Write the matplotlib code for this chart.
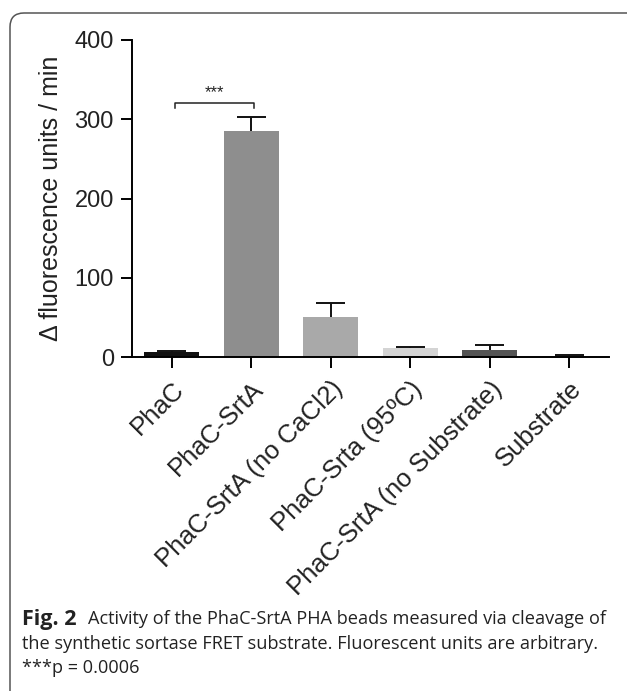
#!/usr/bin/env python3

import matplotlib
matplotlib.use('Agg')
import matplotlib.pyplot as plt
from matplotlib.patches import FancyBboxPatch

groups = ['PhaC', 'PhaC-SrtA', 'PhaC-SrtA (no CaCl2)', 'PhaC-Srta (95ºC)',
          'PhaC-SrtA (no Substrate)', 'Substrate']
means = [7, 285, 51, 12, 9, 2]
errors = [1, 18, 17, 1, 6, 1]
colors = ['#111111', '#8e8e8e', '#a9a9a9', '#d4d4d4', '#545454', '#d9d9d9']
yticks = [0, 100, 200, 300, 400]
sig_pair = (0, 1)
sig_y = 321
sig_label = '***'

caption_bold = 'Fig. 2'
caption_lines = [
    'Activity of the PhaC-SrtA PHA beads measured via cleavage of',
    'the synthetic sortase FRET substrate. Fluorescent units are arbitrary.',
    '***p = 0.0006',
]

W, H = 627, 691
fig = plt.figure(figsize=(W / 100, H / 100), dpi=100)
plt.rcParams['font.family'] = ['Liberation Sans', 'DejaVu Sans']

ax = fig.add_axes([132 / W, 1 - 357.3 / H, (609 - 132) / W, (357.3 - 40) / H])
x = list(range(len(groups)))
ax.bar(x, means, width=0.69, color=colors, zorder=2)

# error bars: upper half only, cap on top
tops = [m + e for m, e in zip(means, errors)]
ax.vlines(x, means, tops, color='#111111', lw=1.4, zorder=3)
ax.hlines(tops, [i - 0.18 for i in x], [i + 0.18 for i in x],
          color='#111111', lw=1.4, zorder=3)

ax.set_xlim(-0.5, 5.5)
ax.set_ylim(0, 400)
ax.set_yticks(yticks)
ax.set_xticks(x)
ax.set_xticklabels(groups, rotation=45, ha='right', va='top',
                   rotation_mode='anchor', fontsize=18.5, color='#222222')
ax.tick_params(axis='y', labelsize=17, length=8, width=1.4, pad=5,
               labelcolor='#222222')
ax.tick_params(axis='x', length=8, width=1.4, pad=6)
for side in ['top', 'right']:
    ax.spines[side].set_visible(False)
for side in ['left', 'bottom']:
    ax.spines[side].set_linewidth(1.4)
ax.set_ylabel('Δ fluorescence units / min', fontsize=18, labelpad=8,
              color='#222222')

# significance bracket
x0, x1 = sig_pair[0] + 0.04, sig_pair[1] + 0.03
ax.plot([x0, x0, x1, x1], [sig_y - 7, sig_y, sig_y, sig_y - 7],
        color='#222222', lw=1.1, clip_on=False)
ax.text((x0 + x1) / 2, sig_y + 3, sig_label, ha='center', va='bottom',
        fontsize=12, color='#222222')

# rounded frame around the figure
frame = FancyBboxPatch((10, -30), 700, H - 13 + 30,
                       boxstyle='round,pad=0,rounding_size=14',
                       transform=None, fill=False, edgecolor='#555555', lw=1.1)
fig.patches.append(frame)

# caption
cap_font = ['Open Sans', 'DejaVu Sans']
fs = 13.1
renderer = fig.canvas.get_renderer()
t = fig.text(22 / W, 1 - 619 / H, caption_bold, fontsize=15.5, fontweight='bold',
             family=cap_font, va='center', color='#222222')
bb = t.get_window_extent(renderer=renderer)
fig.text((bb.x1 + 11) / W, 1 - 619 / H, caption_lines[0], fontsize=fs,
         family=cap_font, va='center', color='#222222')
fig.text(22 / W, 1 - 644 / H, caption_lines[1], fontsize=fs,
         family=cap_font, va='center', color='#222222')
fig.text(22 / W, 1 - 668 / H, caption_lines[2], fontsize=fs,
         family=cap_font, va='center', color='#222222')

fig.savefig('out.png', dpi=100)
